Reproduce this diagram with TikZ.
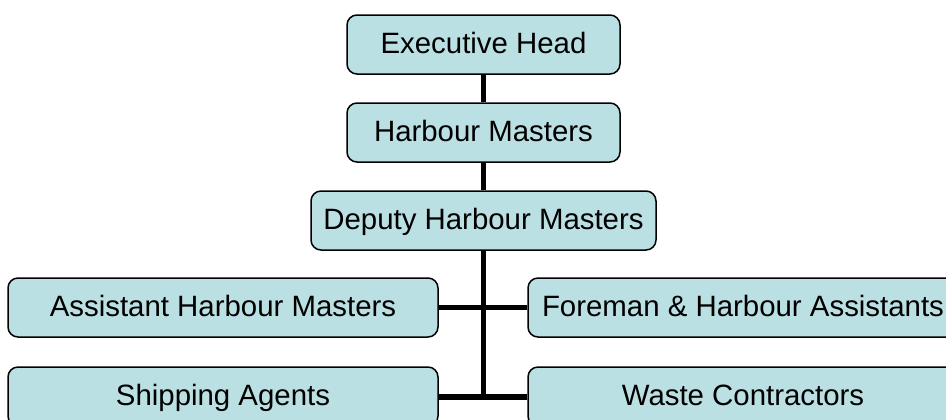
\documentclass[tikz,border=0pt]{standalone}
\usepackage{fontspec}
\setmainfont{Liberation Sans}
\usepackage{xcolor}
\usepackage{tikz}
\usetikzlibrary{positioning,calc}
\definecolor{postblue}{RGB}{187,224,227}
\tikzstyle{post} = [rectangle, draw, line width=0.75pt, rounded corners=5pt, fill=postblue, inner sep=0pt, minimum height=29.5pt, text height=11.5pt, text depth=3pt, font=\fontsize{14.7}{17}\selectfont]
\tikzstyle{link} = [line width=2.6pt]

\begin{document}
\begin{tikzpicture}[x=0.5pt,y=-0.5pt]
    \clip (0,0) rectangle (946,419);
    \useasboundingbox (0,0) rectangle (946,419);
    \node[post, minimum width=136.5pt] (exec) at (483.5,44.5) {Executive Head};
    \node[post, minimum width=136.5pt] (hm) at (483.5,132.5) {Harbour Masters};
    \node[post, minimum width=172.5pt] (dhm) at (483.5,220.5) {Deputy Harbour Masters};
    \node[post, minimum width=215pt] (ahm) at (223,307.5) {Assistant Harbour Masters};
    \node[post, minimum width=215pt] (fha) at (743,307.5) {Foreman \& Harbour Assistants};
    \node[post, minimum width=215pt] (sa) at (223,396.5) {Shipping Agents};
    \node[post, minimum width=215pt] (wc) at (743,396.5) {Waste Contractors};
    \coordinate (jn) at (483.5,397);
    \draw[link] (exec) -- (hm);
    \draw[link] (hm) -- (dhm);
    \draw[link] (dhm.south) -- (jn);
    \draw[link] (ahm) -- (fha);
    \draw[link] (sa.east |- jn) -- (wc.west |- jn);
\end{tikzpicture}
\end{document}
